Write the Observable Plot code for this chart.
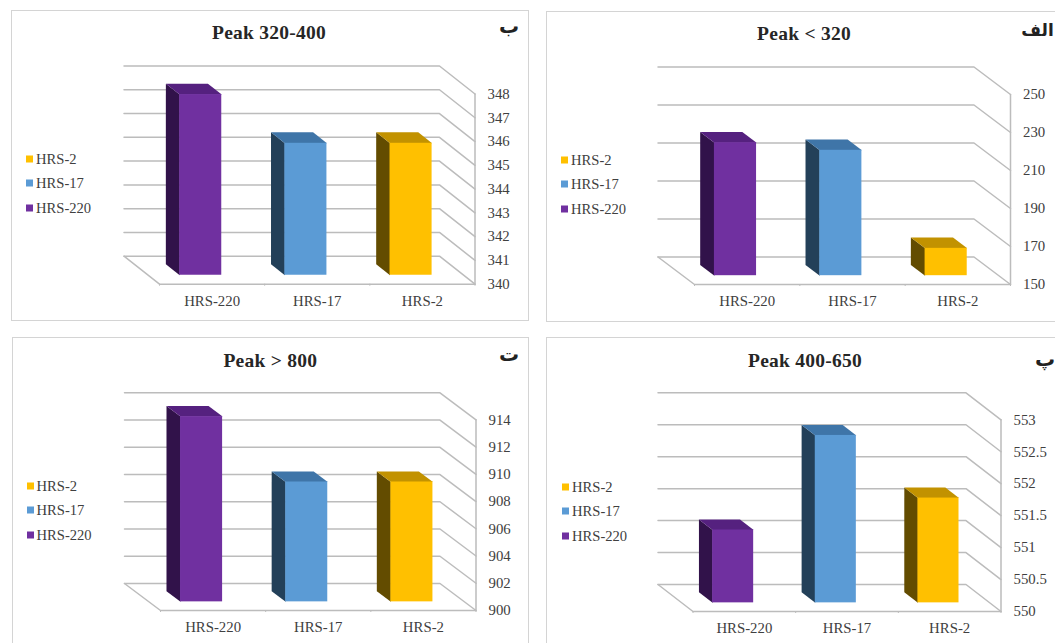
<!DOCTYPE html>
<html>
<head>
<meta charset="utf-8">
<script src="https://cdn.jsdelivr.net/npm/d3@7"></script>
<script src="https://cdn.jsdelivr.net/npm/@observablehq/plot@0.6"></script>
<style>
  html, body { margin: 0; padding: 0; background: #fff; overflow: hidden; }
  #page { position: relative; width: 1055px; height: 643px; overflow: hidden; font-family: "Liberation Serif", serif; }
  .frame { position: absolute; box-sizing: border-box; border: 1.5px solid #d4d4d4; }
  .holder { position: absolute; }
  .title { position: absolute; transform: translate(-50%, -50%); font-weight: bold; font-size: 19.5px; letter-spacing: 0.25px; color: #262626; white-space: nowrap; }
  .letter { position: absolute; transform: translate(-50%, -50%); font-family: "DejaVu Sans", sans-serif; font-weight: bold; color: #222; white-space: nowrap; }
  .legend-row { position: absolute; font-size: 14.6px; color: #404040; white-space: nowrap; transform: translateY(-50%); }
  .swatch { position: absolute; width: 7px; height: 7px; transform: translateY(-50%); }
</style>
</head>
<body>
<div id="page"></div>
<script>
// Samples, in plotting order and in legend order
const samples = ["HRS-220", "HRS-17", "HRS-2"];
const legendOrder = ["HRS-2", "HRS-17", "HRS-220"];

// Peak positions for each sample, per band
const peakBelow320 = [220, 216, 164.4];
const peak320to400 = [347.6, 345.55, 345.55];
const peak400to650 = [551.14, 552.62, 551.64];
const peakAbove800 = [913.6, 908.8, 908.8];

// Value axis ticks per band
const ticksBelow320 = [150, 170, 190, 210, 230, 250];
const ticks320to400 = [340, 341, 342, 343, 344, 345, 346, 347, 348];
const ticks400to650 = [550, 550.5, 551, 551.5, 552, 552.5, 553];
const ticksAbove800 = [900, 902, 904, 906, 908, 910, 912, 914];

// Face colours for each sample: front, side, top
const frontColors = ["#7030a0", "#5b9bd5", "#ffc000"];
const sideColors = ["#31124a", "#234059", "#634c00"];
const topColors = ["#55217f", "#3f75a8", "#c29200"];

// Depth of the box faces within the wall-to-front span
const barFront = 0.32;
const barBack = 0.71;
const barHalf = 0.2;

const panels = [
  {title: "Peak 320-400", letter: "ب", letterSize: 20, letterAt: [509, 26], values: peak320to400, ticks: ticks320to400,
   box: [11, 10, 518, 311], fx: [159, 474.5], fy: [283.7, 93.5], wall: [35.5, 28], titleX: 269, titleY: 33, legendX: 26, legendY: [159, 182.7, 208]},
  {title: "Peak < 320", letter: "الف", letterSize: 17, letterAt: [1037.5, 30], values: peakBelow320, ticks: ticksBelow320,
   box: [546, 11, 520, 311], fx: [694, 1010], fy: [284, 94], wall: [36.5, 27.5], titleX: 804, titleY: 34, legendX: 561, legendY: [160, 183.5, 209]},
  {title: "Peak > 800", letter: "ت", letterSize: 20, letterAt: [509, 354], values: peakAbove800, ticks: ticksAbove800,
   box: [12, 337, 517, 320], fx: [160, 475.5], fy: [610, 419.3], wall: [36, 27], titleX: 270.3, titleY: 361, legendX: 26.5, legendY: [486, 510, 535]},
  {title: "Peak 400-650", letter: "پ", letterSize: 20, letterAt: [1045, 359], values: peak400to650, ticks: ticks400to650,
   box: [546, 337, 520, 320], fx: [692.5, 1000.5], fy: [611, 419.3], wall: [35, 27], titleX: 805, titleY: 361, legendX: 562, legendY: [487.3, 511, 536]}
];

const page = document.getElementById("page");

function addDiv(className, text, style) {
  const el = document.createElement("div");
  el.className = className;
  if (text) el.textContent = text;
  Object.assign(el.style, style);
  page.appendChild(el);
  return el;
}

function drawPanel(p) {
  const [bx, by, bw, bh] = p.box;
  const yMin = p.ticks[0];
  const yMax = p.ticks[p.ticks.length - 1];

  // Oblique projection: depth 0 is the front plane, depth 1 the back wall
  const kx = p.wall[0] * 3 / (p.fx[1] - p.fx[0]);
  const ky = p.wall[1] * (yMax - yMin) / (p.fy[0] - p.fy[1]);
  const at = (x, v, depth) => ({x: x - depth * kx, y: v + depth * ky});

  const marks = [];
  const gridLine = {x: "x", y: "y", stroke: "#bcbcbc", strokeWidth: 1.5};

  // Back wall and side wall lines
  for (const t of p.ticks) {
    marks.push(Plot.line([at(0, t, 1), at(3, t, 1), at(3, t, 0)], gridLine));
  }
  // Floor edges and the value axis line
  marks.push(Plot.line([at(0, yMin, 1), at(0, yMin, 0), at(3, yMin, 0), at(3, yMax, 0)], gridLine));

  samples.forEach((s, i) => {
    const c = i + 0.5;
    const v = p.values[i];
    const l = c - barHalf;
    const r = c + barHalf;
    // Left side of the box
    marks.push(Plot.line([at(l, yMin, barFront), at(l, v, barFront), at(l, v, barBack), at(l, yMin, barBack)],
      {x: "x", y: "y", fill: sideColors[i], stroke: "none"}));
    // Top of the box
    marks.push(Plot.line([at(l, v, barFront), at(r, v, barFront), at(r, v, barBack), at(l, v, barBack)],
      {x: "x", y: "y", fill: topColors[i], stroke: "none"}));
    // Front of the box
    const lo = at(l, yMin, barFront);
    const hi = at(r, v, barFront);
    marks.push(Plot.rect([{x1: lo.x, x2: hi.x, y1: lo.y, y2: hi.y}],
      {x1: "x1", x2: "x2", y1: "y1", y2: "y2", fill: frontColors[i]}));
  });

  // Sample labels and small ticks along the front edge
  marks.push(Plot.axisX({ticks: [0, 1, 2, 3], tickFormat: () => "", tickSize: 2, stroke: "#bcbcbc", label: null}));
  marks.push(Plot.axisX({ticks: [0.5, 1.5, 2.5], tickFormat: (d) => samples[d - 0.5], tickSize: 0, tickPadding: 11, label: null, fill: "#404040"}));
  marks.push(Plot.axisY({anchor: "right", ticks: p.ticks, tickFormat: String, tickSize: 0, tickPadding: 12.5, label: null, fill: "#404040"}));

  const chart = Plot.plot({
    width: bw,
    height: bh,
    marginLeft: p.fx[0] - bx,
    marginRight: bx + bw - p.fx[1],
    marginTop: p.fy[1] - by,
    marginBottom: by + bh - p.fy[0],
    x: {domain: [0, 3]},
    y: {domain: [yMin, yMax]},
    style: {fontFamily: '"Liberation Serif", serif', fontSize: "14.8px", background: "transparent", maxWidth: "none", overflow: "visible"},
    marks
  });

  addDiv("frame", "", {left: bx + "px", top: by + "px", width: bw + "px", height: bh + "px"});
  const holder = addDiv("holder", "", {left: bx + "px", top: by + "px", width: bw + "px", height: bh + "px"});
  holder.appendChild(chart);

  addDiv("title", p.title, {left: p.titleX + "px", top: p.titleY + "px"});
  addDiv("letter", p.letter, {left: p.letterAt[0] + "px", top: p.letterAt[1] + "px", fontSize: p.letterSize + "px"});

  legendOrder.forEach((name, i) => {
    const color = frontColors[samples.indexOf(name)];
    addDiv("swatch", "", {left: p.legendX + "px", top: p.legendY[i] + "px", background: color});
    addDiv("legend-row", name, {left: (p.legendX + 10) + "px", top: p.legendY[i] + "px"});
  });
}

panels.forEach(drawPanel);
</script>
</body>
</html>
